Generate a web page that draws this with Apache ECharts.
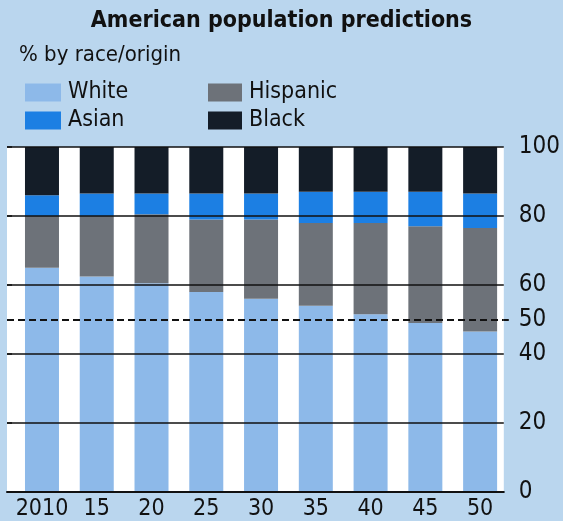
<!DOCTYPE html>
<html>
<head>
<meta charset="utf-8">
<script src="https://cdn.jsdelivr.net/npm/echarts@6/dist/echarts.min.js"></script>
<style>
  html, body { margin: 0; padding: 0; background: #bad6ee; }
  #chart { width: 563px; height: 521px; }
</style>
</head>
<body>
<div id="chart"></div>
<script>
// values, % of population
const years = ['2010', '15', '20', '25', '30', '35', '40', '45', '50']
const white = [65, 62.5, 60.5, 58, 56, 54, 51.5, 49, 46.5]
const hispanic = [15, 17.5, 20, 21, 23, 24, 26.5, 28, 30]
const asian = [6, 6.5, 6, 7.5, 7.5, 9, 9, 10, 10]
const black = [14, 13.5, 13.5, 13.5, 13.5, 13, 13, 13, 13.5]
const yTicks = [0, 20, 40, 60, 80, 100]
const markerTick = [50]

const font = "'DejaVu Sans Condensed', 'Liberation Sans Narrow', sans-serif"

const bar = (name, vals, color) => ({
    name: name,
    type: 'bar',
    stack: 'pop',
    xAxisIndex: 1,
    yAxisIndex: 2,
    barWidth: 34,
    itemStyle: { color: color },
    data: vals
})

const chart = echarts.init(document.getElementById('chart'))

const option = {
    backgroundColor: '#bad6ee',
    animation: false,
    title: [
        {
            text: 'American population predictions',
            left: 'center',
            top: 5,
            textStyle: { fontFamily: font, fontSize: 23, fontWeight: 'bold', color: '#111' }
        },
        {
            text: '% by race/origin',
            left: 14,
            top: 39,
            textStyle: { fontFamily: font, fontSize: 22, fontWeight: 'normal', color: '#111' }
        }
    ],
    legend: [
        {
            data: ['White', 'Asian'],
            orient: 'vertical',
            left: 20,
            top: 76,
            itemWidth: 36,
            itemHeight: 18,
            itemGap: 5,
            icon: 'rect',
            textStyle: { fontFamily: font, fontSize: 23, color: '#111', padding: [0, 0, 0, 2] }
        },
        {
            data: ['Hispanic', 'Black'],
            orient: 'vertical',
            left: 203,
            top: 76,
            itemWidth: 34,
            itemHeight: 18,
            itemGap: 5,
            icon: 'rect',
            textStyle: { fontFamily: font, fontSize: 23, color: '#111', padding: [0, 0, 0, 2] }
        }
    ],
    grid: [
        {
            left: 7,
            right: 55,
            top: 147,
            bottom: 29,
            show: true,
            backgroundColor: '#ffffff',
            borderWidth: 0
        },
        {
            left: 14.6,
            right: 55.5,
            top: 147,
            bottom: 29
        }
    ],
    xAxis: [
        {
            gridIndex: 0,
            type: 'value',
            min: 0,
            max: 1,
            z: 10,
            splitLine: { show: false },
            axisTick: { show: false },
            axisLabel: { show: false },
            axisLine: { show: true, lineStyle: { color: '#111', width: 2 } }
        },
        {
            gridIndex: 1,
            type: 'category',
            data: years,
            axisLine: { show: false },
            axisTick: { show: false },
            axisLabel: {
                interval: 0,
                hideOverlap: false,
                fontFamily: font,
                fontSize: 23,
                color: '#111',
                margin: 6
            }
        }
    ],
    yAxis: [
        {
            gridIndex: 0,
            type: 'value',
            position: 'right',
            min: 0,
            max: 100,
            interval: 20,
            z: 10,
            axisLine: { show: false },
            axisTick: { show: true, length: 5, lineStyle: { color: '#111', width: 1.5 } },
            splitLine: { show: true, lineStyle: { color: '#111', width: 1.5 } },
            axisLabel: {
                customValues: yTicks,
                fontFamily: font,
                fontSize: 24,
                color: '#111',
                margin: 15
            }
        },
        {
            gridIndex: 0,
            type: 'value',
            position: 'right',
            min: 0,
            max: 100,
            z: 10,
            axisLine: { show: false },
            axisTick: { show: true, customValues: markerTick, length: 5, lineStyle: { color: '#111', width: 2, type: [6, 3] } },
            splitLine: { show: true, lineStyle: { color: '#111', width: 2, type: [7, 4] } },
            axisLabel: {
                customValues: markerTick,
                fontFamily: font,
                fontSize: 24,
                color: '#111',
                margin: 15
            }
        },
        {
            gridIndex: 1,
            type: 'value',
            min: 0,
            max: 100,
            show: false,
            splitLine: { show: false }
        }
    ],
    series: [
        bar('White', white, '#8db9e9'),
        bar('Hispanic', hispanic, '#6d7279'),
        bar('Asian', asian, '#1c7fe3'),
        bar('Black', black, '#141d28')
    ]
}

chart.setOption(option)
</script>
</body>
</html>
